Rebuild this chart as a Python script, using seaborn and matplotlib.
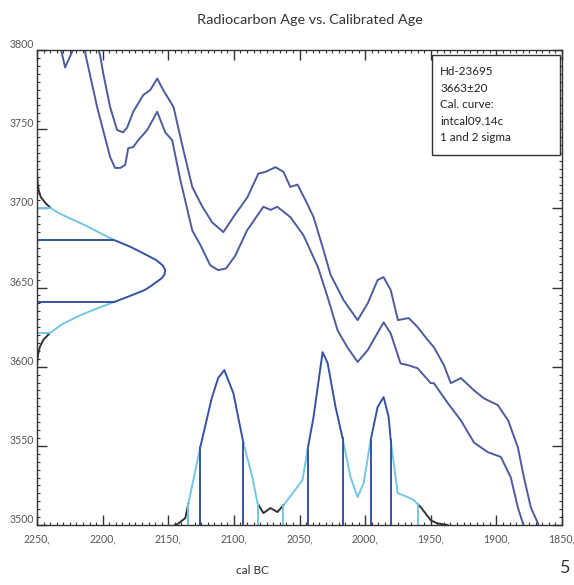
import numpy as np
import matplotlib
matplotlib.use("Agg")
import matplotlib.pyplot as plt
import seaborn as sns
from matplotlib.ticker import MultipleLocator, FixedLocator, FixedFormatter
from matplotlib.patches import Rectangle

# ---------------- data ----------------
upper_years = [2205, 2202, 2199.6, 2194.3, 2189, 2184.4, 2181.3, 2176.7, 2169, 2163.7, 2158.4,
               2153.8, 2146, 2138.5, 2131.7, 2124, 2116.4, 2108, 2100.4, 2089.7, 2081.3, 2076,
               2068.3, 2062.2, 2057, 2051.5, 2045.4, 2039.3, 2032.4, 2026.3, 2016.4, 2005.7,
               1998, 1990.5, 1986, 1980.5, 1975, 1966.8, 1960, 1952.3, 1947.7, 1940, 1934.7,
               1927, 1917, 1909.5, 1898.9, 1891, 1883.6, 1879, 1873.7, 1868.3, 1867]
upper_age = [3805, 3797, 3785.5, 3764, 3749.5, 3748, 3751, 3761, 3771.6, 3774.7, 3782,
             3774.7, 3764, 3737, 3713.5, 3701, 3691, 3685, 3694.5, 3707, 3722, 3723,
             3726, 3723, 3713.5, 3715, 3705, 3694.5, 3675.6, 3658, 3642, 3629.4,
             3640, 3654.7, 3656.6, 3648.4, 3629.4, 3630.7, 3625, 3616.8, 3612.4, 3601, 3589.6,
             3592.8, 3585, 3580, 3575.7, 3566, 3549, 3530, 3511, 3501, 3497]

lower_years = [2233, 2228.6, 2221, 2214, 2213, 2204.2, 2194.3, 2190.5, 2186.6, 2182.8, 2180.5,
               2176.7, 2172.9, 2166, 2158.4, 2152.3, 2147, 2140.8, 2131.7, 2125.6, 2118, 2112,
               2106, 2099, 2090, 2077.5, 2072, 2067, 2057, 2047, 2036, 2028.6, 2021, 2013.4,
               2005.7, 1998, 1985.9, 1980.5, 1973, 1967.6, 1960, 1950, 1947.7, 1937, 1927,
               1917, 1906.5, 1896.6, 1889, 1883.6, 1879, 1877]
lower_age = [3805, 3789, 3803, 3806, 3797, 3764, 3732.4, 3725.5, 3725.5, 3727.4, 3738,
             3738.7, 3743, 3749.5, 3761, 3748, 3743, 3718, 3686, 3677, 3664, 3661,
             3662, 3670, 3686, 3701, 3699, 3701, 3694.5, 3683, 3663, 3644, 3623, 3612,
             3603, 3610.5, 3628, 3621, 3602, 3601, 3599, 3589.6, 3589.6, 3577, 3566,
             3552, 3546, 3543, 3530, 3511, 3499, 3497]

# radiocarbon date distribution (age, relative probability)
c14_age = [3722.9, 3716, 3711, 3707, 3703, 3700, 3697, 3694.5, 3689.5, 3684.5, 3680, 3676,
           3672.4, 3667.3, 3664, 3661, 3658.5, 3656, 3651, 3648.4, 3644.5, 3640.8, 3636.5,
           3632.6, 3627, 3621.2, 3617, 3612.4, 3608, 3604, 3600]
c14_prob = [0, 0.005, 0.014, 0.03, 0.07, 0.11, 0.17, 0.234, 0.37, 0.49, 0.6, 0.72,
            0.81, 0.93, 0.98, 1.0, 0.995, 0.975, 0.89, 0.84, 0.72, 0.6, 0.46,
            0.34, 0.2, 0.1, 0.05, 0.022, 0.009, 0.003, 0]
c14_1sigma = [(3641, 3680)]
c14_2sigma = [(3621, 3700)]

# calibrated distribution (cal BC, relative probability)
cal_years = [2145, 2143, 2137, 2125.6, 2117, 2112, 2107.3, 2100.4, 2092.7, 2085.9, 2082,
             2077.5, 2072.1, 2066.8, 2062.2, 2054.6, 2047.7, 2043.9, 2039.3, 2032.4,
             2028.6, 2022.5, 2017.2, 2011.1, 2005.7, 2001.1, 1995.8, 1990.5, 1985.9,
             1982.1, 1980.5, 1975.2, 1967.6, 1963, 1957.6, 1950, 1944.7, 1937]
cal_prob = [0, 0.005, 0.04, 0.45, 0.73, 0.85, 0.896, 0.763, 0.473, 0.277, 0.126,
            0.069, 0.098, 0.075, 0.115, 0.19, 0.26, 0.433, 0.625, 1.0,
            0.937, 0.682, 0.503, 0.277, 0.161, 0.243, 0.491, 0.682, 0.74,
            0.625, 0.491, 0.185, 0.161, 0.144, 0.103, 0.027, 0.009, 0]
cal_1sigma = [(2092.7, 2125.6), (2017.2, 2043.9), (1980.5, 1995.8)]
cal_2sigma = [(2081.3, 2134.7), (1959.9, 2062.2)]

x_ticks = [2250, 2200, 2150, 2100, 2050, 2000, 1950, 1900, 1850]
y_ticks = [3500, 3550, 3600, 3650, 3700, 3750, 3800]
legend_lines = ["Hd-23695", "3663\u00b120", "Cal. curve:", "intcal09.14c", "1 and 2 sigma"]
title = "Radiocarbon Age vs. Calibrated Age"
xlabel = "cal BC"
page_no = "5"

# ---------------- styling ----------------
sns.set_theme(style="white")
plt.rcParams["font.family"] = ["Lato", "DejaVu Sans"]

CURVE = "#4d5c9e"
DARK = "#3553a3"
LIGHT = "#72c6e6"
TAIL = "#333333"

fig = plt.figure(figsize=(5.74, 5.85), dpi=100)
ax = fig.add_axes([37 / 574, 1 - 525 / 585, 525 / 574, 475 / 585])

X0, X1 = 2250, 1850
Y0, Y1 = 3500, 3800
C14_SCALE = 97.7   # width in years of the c14 distribution peak
CAL_SCALE = 109.2  # height in years of the calibrated distribution peak


def classify(t, s1, s2):
    for a, b in s1:
        if a <= t <= b:
            return "dark"
    for a, b in s2:
        if a <= t <= b:
            return "light"
    return "tail"


def segments(t, v, s1, s2):
    t = np.asarray(t, float)
    v = np.asarray(v, float)
    order = np.argsort(t)
    t, v = t[order], v[order]
    bounds = sorted({x for r in s1 + s2 for x in r if t[0] < x < t[-1]})
    t_all = np.unique(np.concatenate([t, bounds]))
    v_all = np.interp(t_all, t, v)
    edges = [t[0]] + bounds + [t[-1]]
    out = []
    for a, b in zip(edges[:-1], edges[1:]):
        m = (t_all >= a) & (t_all <= b)
        out.append((t_all[m], v_all[m], classify((a + b) / 2, s1, s2)))
    return out


colors = {"dark": DARK, "light": LIGHT, "tail": TAIL}

# calibration curve envelope
sns.lineplot(x=upper_years, y=upper_age, sort=False, estimator=None, color=CURVE, lw=1.4, ax=ax)
sns.lineplot(x=lower_years, y=lower_age, sort=False, estimator=None, color=CURVE, lw=1.4, ax=ax)

# radiocarbon distribution on the y axis
for ages, probs, cls in segments(c14_age, c14_prob, c14_1sigma, c14_2sigma):
    ax.plot(X0 - C14_SCALE * probs, ages, color=colors[cls], lw=1.4, solid_capstyle="butt")
for rng, col in [(c14_2sigma, LIGHT), (c14_1sigma, DARK)]:
    for r in rng:
        for a in r:
            w = np.interp(a, c14_age[::-1], c14_prob[::-1]) * C14_SCALE
            ax.plot([X0, X0 - w], [a, a], color=col, lw=1.4)

# calibrated distribution at the bottom
for yrs, probs, cls in segments(cal_years, cal_prob, cal_1sigma, cal_2sigma):
    ax.plot(yrs, Y0 + CAL_SCALE * probs, color=colors[cls], lw=1.4)
for rng, col in [(cal_2sigma, LIGHT), (cal_1sigma, DARK)]:
    for r in rng:
        for a in r:
            h = np.interp(a, cal_years[::-1], cal_prob[::-1]) * CAL_SCALE
            ax.plot([a, a], [Y0, Y0 + h], color=col, lw=1.4)

ax.set_xlim(X0, X1)
ax.set_ylim(Y0, Y1)
ax.set_xlabel("")
ax.set_ylabel("")

for sp in ax.spines.values():
    sp.set_color("#333333")
    sp.set_linewidth(1.0)
    sp.set_visible(True)

ax.xaxis.set_major_locator(FixedLocator(x_ticks))
ax.xaxis.set_major_formatter(FixedFormatter([f"{v}," for v in x_ticks]))
ax.yaxis.set_major_locator(FixedLocator(y_ticks))
ax.yaxis.set_major_formatter(FixedFormatter([str(v) for v in y_ticks]))
ax.xaxis.set_minor_locator(MultipleLocator(5))
ax.yaxis.set_minor_locator(MultipleLocator(5))
ax.tick_params(which="both", direction="in", top=True, right=True, bottom=True, left=True,
               color="#333333")
ax.tick_params(which="major", length=7, width=1.0, labelsize=7.6, labelcolor="#555555")
ax.tick_params(which="minor", length=2.5, width=0.8)
ax.tick_params(axis="x", which="major", pad=6)
ax.tick_params(axis="y", which="major", pad=2)
for lab in ax.get_yticklabels():
    lab.set_verticalalignment("bottom")

# legend box
ax.add_patch(Rectangle((0.752, 0.779), 0.996 - 0.752, 0.989 - 0.779, transform=ax.transAxes,
                       fill=True, facecolor="white", edgecolor="#333333", lw=1.0, zorder=5))
for i, line in enumerate(legend_lines):
    ax.text(0.768, 0.954 - i * 0.0345, line, transform=ax.transAxes, fontsize=8.4,
            color="#222222", va="center", ha="left", zorder=6)

fig.text(310 / 574, 1 - 20 / 585, title, ha="center", va="center", fontsize=10.4, color="#333333")
fig.text(252 / 574, 1 - 571 / 585, xlabel, ha="center", va="center", fontsize=8.5, color="#333333")
fig.text(565 / 574, 1 - 568 / 585, page_no, ha="center", va="center", fontsize=13, color="#333333")

fig.savefig("out.png", dpi=100)
